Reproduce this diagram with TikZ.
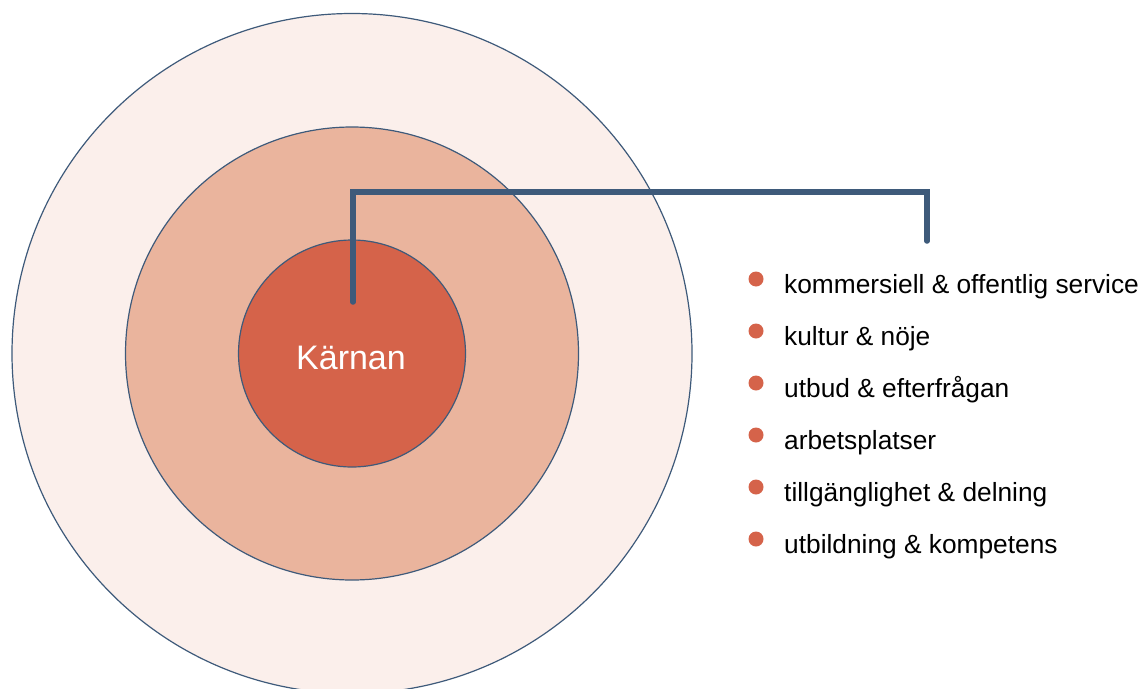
\documentclass[tikz,border=0pt]{standalone}
\usepackage{fontspec}
\setmainfont{Liberation Sans}
\definecolor{ringout}{HTML}{FBEFEB}
\definecolor{ringmid}{HTML}{EAB49D}
\definecolor{core}{HTML}{D5634A}
\definecolor{edge}{HTML}{3E5A7A}
\tikzset{
  ring/.style={draw=edge, line width=1.2pt},
  connector/.style={draw=edge, line width=5.5pt, line cap=round, line join=miter},
  bulletdot/.style={circle, fill=core, minimum size=15pt, inner sep=0pt},
  itemtext/.style={anchor=base west, inner sep=0pt, font=\fontsize{26.3}{30}\selectfont, text=black},
  coretext/.style={anchor=base, inner sep=0pt, font=\fontsize{34}{38}\selectfont, text=white}
}
\begin{document}
\begin{tikzpicture}[x=1pt,y=-1pt]
\useasboundingbox (0,0) rectangle (1142,688);
\begin{scope}
\clip (0,0) rectangle (1142,688);
\fill[ringout, ring] (352,353.5) circle (340pt);
\end{scope}
\fill[ringmid, ring] (352,353.5) circle (226.5pt);
\fill[core, ring] (352,353.5) circle (113.5pt);
\node[coretext] (karnan) at (351,369) {Kärnan};
\coordinate (cstart) at (353,302);
\coordinate (ctop) at (0,192);
\coordinate (cend) at (927,241);
\draw[connector] (cstart) -- (cstart |- ctop) -- (cend |- ctop) -- (cend);
\foreach \i/\t in {0/{kommersiell \& offentlig service},1/{kultur \& nöje},2/{utbud \& efterfrågan},3/{arbetsplatser},4/{tillgänglighet \& delning},5/{utbildning \& kompetens}}{
  \node[bulletdot] (b\i) at (756,279+52*\i) {};
  \node[itemtext] (t\i) at (784,293+52*\i) {\t};
}
\end{tikzpicture}
\end{document}
